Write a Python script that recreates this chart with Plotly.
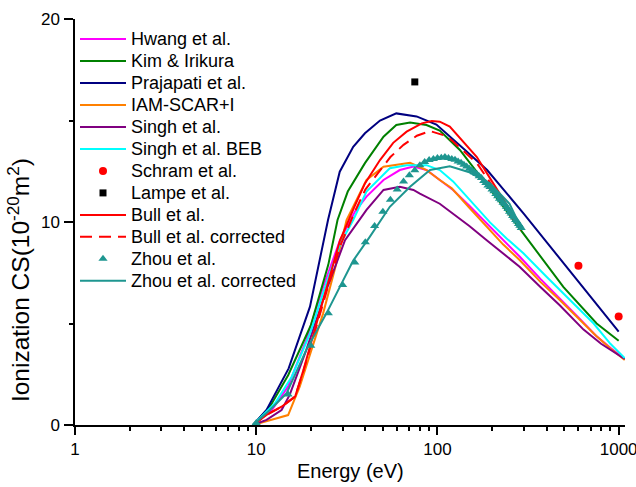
import plotly.graph_objects as go

# ---------------- data ----------------
hwang_e = [9.6, 12.2, 15, 18.9, 23.4, 29, 35, 40.6, 50.4, 62, 73.7, 87, 103, 122, 150, 187, 230, 284, 370, 473, 600, 750, 900, 1080]
hwang_cs = [0, 0.74, 1.9, 4.2, 6.8, 9.1, 10.5, 11.25, 12.07, 12.56, 12.73, 12.56, 12.07, 11.58, 10.8, 9.94, 9.1, 8.3, 7.2, 6.25, 5.3, 4.4, 3.8, 3.25]

kim_e = [9.6, 11.9, 15, 20, 25, 28.1, 32, 39.8, 50.4, 59.3, 70.6, 87, 103, 133, 200, 297, 495, 756, 1000]
kim_cs = [0, 0.9, 2.45, 4.9, 7.9, 10.1, 11.5, 12.9, 14.2, 14.78, 14.9, 14.78, 14.5, 13.55, 11.5, 9.44, 6.8, 5.0, 4.15]

praj_e = [9.6, 11.4, 15.1, 19.8, 24.9, 28.9, 34.3, 39.8, 48.2, 59.3, 76.7, 98.7, 144, 188, 300, 437, 612, 1000]
praj_cs = [0, 0.74, 2.79, 5.83, 10.1, 12.48, 13.7, 14.37, 15.0, 15.35, 15.2, 14.8, 13.5, 12.56, 10.4, 8.6, 7.0, 4.6]

iam_e = [9.6, 15, 17.4, 19.8, 23.4, 27.7, 31.5, 40.6, 50.4, 70.6, 87, 103, 120, 150, 187, 230, 284, 370, 473, 614, 750, 898, 1080]
iam_cs = [0, 0.49, 1.9, 3.5, 5.5, 7.97, 10.1, 12.07, 12.72, 12.92, 12.56, 12.07, 11.66, 10.7, 9.77, 8.9, 8.13, 7.05, 6.16, 5.17, 4.4, 3.78, 3.2]

singh_e = [9.6, 11.4, 13.8, 15.3, 18.9, 24.4, 30.9, 40.6, 50.4, 62, 73.7, 80, 103, 122, 150, 187, 284, 370, 473, 640, 800, 1080]
singh_cs = [0, 0.25, 0.74, 1.48, 3.7, 6.65, 9.1, 10.6, 11.58, 11.74, 11.58, 11.4, 10.9, 10.4, 9.8, 9.1, 7.8, 6.8, 5.9, 4.7, 4.0, 3.25]

beb_e = [9.6, 12.7, 15.7, 19.8, 24.4, 29, 34.3, 40.6, 54.6, 67.6, 87, 103, 122, 150, 195, 240, 298, 400, 518, 728, 900, 1080]
beb_cs = [0, 1.07, 2.38, 4.5, 7.0, 8.9, 10.1, 11.5, 12.65, 12.8, 12.8, 12.56, 12.0, 11.1, 9.98, 9.2, 8.46, 7.3, 6.32, 5.0, 4.0, 3.3]

schram_e = [600, 1000]
schram_cs = [7.85, 5.35]

lampe_e = [75]
lampe_cs = [16.9]

bull_e = [9.6, 11.4, 13.8, 16.4, 18.2, 21, 24.5, 29, 35, 39.8, 48.2, 57, 67.6, 82, 93, 103, 117, 139, 165, 200, 250, 290]
bull_cs = [0, 0.5, 0.9, 1.4, 2.7, 4.7, 6.8, 9.1, 10.8, 11.9, 13.05, 13.9, 14.45, 14.86, 14.97, 14.94, 14.7, 13.96, 13.2, 12.0, 10.6, 9.7]

bullc_e = [9.6, 11.4, 13.8, 16.4, 18.2, 21, 24.5, 29, 35, 40, 48, 55, 65, 77, 91, 108, 119, 139, 165, 200, 250, 290]
bullc_cs = [0, 0.5, 0.9, 1.4, 2.65, 4.6, 6.6, 8.8, 10.5, 11.6, 12.5, 13.2, 13.8, 14.25, 14.48, 14.28, 14.05, 13.5, 12.9, 11.8, 10.4, 9.6]

zhou_e = [10, 15, 20, 25, 30, 35, 40, 45, 50, 55, 60, 65, 70, 75, 80, 85, 90, 95, 100,
          105, 110, 115, 120, 125, 130, 135, 140, 145, 150, 155, 160, 165, 170, 175, 180,
          185, 190, 195, 200, 205, 210, 215, 220, 225, 230, 235, 240, 245, 250, 255, 260,
          265, 270, 275, 280, 285, 290]
zhou_cs = [0.1, 1.5, 3.9, 5.5, 6.9, 8.0, 9.0, 9.8, 10.5, 11.1, 11.6, 12.0, 12.3, 12.55, 12.8, 12.95, 13.05, 13.1, 13.15,
           13.17, 13.2, 13.15, 13.1, 13.07, 12.98, 12.92, 12.82, 12.74, 12.62, 12.55, 12.45, 12.37, 12.25, 12.17, 12.02,
           11.92, 11.8, 11.72, 11.6, 11.52, 11.38, 11.27, 11.15, 11.07, 10.95, 10.87, 10.75, 10.64, 10.5, 10.42, 10.3,
           10.22, 10.1, 10.02, 9.9, 9.82, 9.7]

zhouc_e = [9.6, 11.9, 14.7, 18.9, 24.4, 30, 34.3, 42.4, 54.6, 70.6, 91, 117, 150, 195, 250, 290]
zhouc_cs = [0, 0.74, 1.56, 3.7, 5.5, 7.1, 8.1, 9.28, 10.75, 11.74, 12.56, 12.75, 12.45, 11.9, 10.9, 9.7]

x_tickvals = [1, 10, 100, 1000]
x_ticktext = ["1", "10", "100", "1000"]
x_minorvals = [2, 3, 4, 5, 6, 7, 8, 9, 20, 30, 40, 50, 60, 70, 80, 90, 200, 300, 400, 500, 600, 700, 800, 900]
y_tickvals = [0, 10, 20]

# ---------------- figure ----------------
def nm(s):
    return '<span style="font-size:18px">' + s + '</span>'

fig = go.Figure()

def add_line(x, y, name, color, dash="solid"):
    fig.add_trace(go.Scatter(x=x, y=y, mode="lines", name=nm(name),
                             line=dict(color=color, width=2, dash=dash)))

def add_pts(x, y, name, color, symbol, size):
    fig.add_trace(go.Scatter(x=x, y=y, mode="markers", name=nm(name),
                             marker=dict(color=color, symbol=symbol, size=size,
                                         line=dict(width=0))))

add_line(hwang_e, hwang_cs, "Hwang et al.", "#FF00FF")
add_line(kim_e, kim_cs, "Kim &amp; Irikura", "#008000")
add_line(praj_e, praj_cs, "Prajapati et al.", "#000080")
add_line(iam_e, iam_cs, "IAM-SCAR+I", "#FF8000")
add_line(singh_e, singh_cs, "Singh et al.", "#800080")
add_line(beb_e, beb_cs, "Singh et al. BEB", "#00FFFF")
add_pts(schram_e, schram_cs, "Schram et al.", "#FF0000", "circle", 8)
add_pts(lampe_e, lampe_cs, "Lampe et al.", "#000000", "square", 7)
add_line(bull_e, bull_cs, "Bull et al.", "#FF0000")
add_line(bullc_e, bullc_cs, "Bull et al. corrected", "#FF0000", dash="12px,7px")
add_pts(zhou_e, zhou_cs, "Zhou et al.", "#1E9690", "triangle-up", 8)
add_line(zhouc_e, zhouc_cs, "Zhou et al. corrected", "#1E9690")

axis_common = dict(showline=True, linecolor="black", linewidth=1.5, showgrid=False,
                   zeroline=False, ticks="outside", tickcolor="black", tickwidth=1.5,
                   tickfont=dict(size=17, color="black"), ticklabeloverflow="allow",
                   automargin=False)

fig.update_xaxes(type="log", range=[0, 3.035], tickmode="array", tickvals=x_tickvals,
                 ticktext=x_ticktext, ticklen=8,
                 minor=dict(tickmode="array", tickvals=x_minorvals, ticks="outside",
                            ticklen=4, tickwidth=1.5, tickcolor="black", showgrid=False),
                 **axis_common)
fig.update_yaxes(range=[0, 20], tickmode="array", tickvals=y_tickvals, ticklen=9,
                 ticklabelstandoff=1,
                 minor=dict(dtick=5, ticks="outside", ticklen=4.5, tickwidth=1.5,
                            tickcolor="black", showgrid=False),
                 **axis_common)

fig.add_annotation(text="Energy (eV)", xref="paper", yref="paper", x=0.5, y=-0.113,
                   xanchor="center", yanchor="middle", showarrow=False,
                   font=dict(size=20, color="black"))
fig.add_annotation(text="Ionization CS(10<sup>-20</sup>m<sup>2</sup>)", xref="paper",
                   yref="paper", x=-0.1025, y=0.356, xanchor="center", yanchor="middle",
                   textangle=-90, showarrow=False, font=dict(size=24.5, color="black"))

fig.update_layout(
    width=636, height=487,
    margin=dict(l=75, r=11, t=19, b=62, pad=0, autoexpand=False),
    paper_bgcolor="white", plot_bgcolor="white",
    font=dict(family="Liberation Sans, Arial, sans-serif", color="black"),
    showlegend=True,
    legend=dict(x=0.0, y=0.99, xanchor="left", yanchor="top",
                font=dict(size=14.6, color="black"), itemwidth=46,
                bgcolor="rgba(0,0,0,0)", borderwidth=0, tracegroupgap=0),
)

fig.write_html("out.html", config={"displayModeBar": False},
               post_script="document.body.style.margin='0';document.body.style.padding='0';")
